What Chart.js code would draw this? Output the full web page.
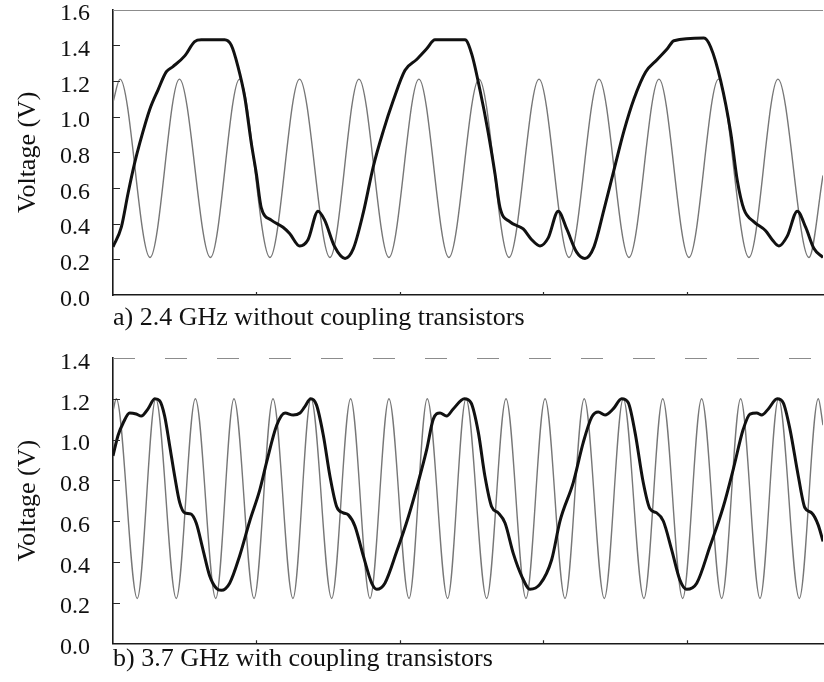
<!DOCTYPE html>
<html>
<head>
<meta charset="utf-8">
<script src="https://cdn.jsdelivr.net/npm/chart.js@4.4.1/dist/chart.umd.min.js"></script>
<style>
  html, body { margin: 0; padding: 0; background: #fff; }
  #wrap { position: relative; width: 824px; height: 682px; background: #fff; }
  canvas { position: absolute; left: 0; }
  #panelA { top: 0; }
  #panelB { top: 341px; }
</style>
</head>
<body>
<div id="wrap">
  <canvas id="panelA" width="824" height="341"></canvas>
  <canvas id="panelB" width="824" height="341"></canvas>
</div>
<script>
// ---- (a) 2.4 GHz input, divider output without coupling transistors ----
// time in ns, voltage in V
const inTimeA = [0.000, 0.049, 0.258, 0.463, 0.679, 0.882, 1.094, 1.300, 1.512, 1.714, 1.923, 2.132, 2.341,
                 2.551, 2.760, 2.969, 3.178, 3.387, 3.596, 3.805, 4.014, 4.220, 4.432, 4.634, 4.850, 4.948];
const inVoltA = [1.08, 1.21, 0.21, 1.21, 0.21, 1.21, 0.21, 1.21, 0.21, 1.21, 0.21, 1.21, 0.21,
                 1.21, 0.21, 1.21, 0.21, 1.21, 0.21, 1.21, 0.21, 1.21, 0.21, 1.21, 0.21, 0.67];

const outTimeA = [0.000, 0.058, 0.105, 0.151, 0.186, 0.256, 0.314, 0.371, 0.418, 0.500, 0.569, 0.615,
                  0.778, 0.824, 0.871, 0.918, 0.964, 0.999, 1.033, 1.103, 1.185, 1.231, 1.301, 1.359,
                  1.429, 1.475, 1.545, 1.617, 1.675, 1.744, 1.814, 1.884, 1.953, 2.035, 2.116, 2.186,
                  2.244, 2.453, 2.500, 2.557, 2.615, 2.662, 2.697, 2.767, 2.859, 2.918, 2.976, 3.033,
                  3.103, 3.162, 3.231, 3.289, 3.352, 3.422, 3.491, 3.561, 3.631, 3.712, 3.793, 3.863,
                  3.909, 4.118, 4.165, 4.235, 4.305, 4.351, 4.397, 4.467, 4.548, 4.594, 4.641, 4.699,
                  4.769, 4.827, 4.885, 4.948];
const outVoltA = [0.27, 0.38, 0.57, 0.74, 0.85, 1.04, 1.15, 1.25, 1.28, 1.34, 1.42, 1.43,
                  1.43, 1.40, 1.28, 1.11, 0.85, 0.68, 0.49, 0.42, 0.38, 0.345, 0.275, 0.31,
                  0.47, 0.42, 0.27, 0.205, 0.26, 0.46, 0.72, 0.92, 1.09, 1.26, 1.32, 1.38,
                  1.43, 1.43, 1.35, 1.15, 0.91, 0.68, 0.49, 0.41, 0.37, 0.31, 0.275, 0.32,
                  0.47, 0.37, 0.24, 0.205, 0.27, 0.48, 0.70, 0.92, 1.10, 1.25, 1.32, 1.38,
                  1.425, 1.44, 1.39, 1.20, 0.91, 0.64, 0.48, 0.41, 0.36, 0.31, 0.275, 0.33,
                  0.47, 0.38, 0.26, 0.21];

// ---- (b) 3.7 GHz input, divider output with coupling transistors ----
const inTimeB = [0.000, 0.023, 0.169, 0.298, 0.441, 0.574, 0.716, 0.843, 0.983, 1.115, 1.254, 1.380, 1.524,
                 1.656, 1.791, 1.923, 2.063, 2.190, 2.332, 2.460, 2.604, 2.739, 2.878, 3.011, 3.150, 3.284,
                 3.424, 3.556, 3.700, 3.831, 3.970, 4.102, 4.242, 4.374, 4.509, 4.638, 4.783, 4.915, 4.948];
const inVoltB = [1.14, 1.20, 0.22, 1.20, 0.22, 1.20, 0.22, 1.20, 0.22, 1.20, 0.22, 1.20, 0.22,
                 1.20, 0.22, 1.20, 0.22, 1.20, 0.22, 1.20, 0.22, 1.20, 0.22, 1.20, 0.22, 1.20,
                 0.22, 1.20, 0.22, 1.20, 0.22, 1.20, 0.22, 1.20, 0.22, 1.20, 0.22, 1.20, 1.07];

const outTimeB = [0.000, 0.035, 0.070, 0.116, 0.162, 0.197, 0.244, 0.291, 0.325, 0.360, 0.395, 0.430,
                  0.465, 0.500, 0.541, 0.580, 0.627, 0.674, 0.720, 0.755, 0.813, 0.883, 0.953, 1.022,
                  1.071, 1.141, 1.199, 1.256, 1.303, 1.336, 1.378, 1.418, 1.466, 1.512, 1.559, 1.605,
                  1.640, 1.686, 1.744, 1.803, 1.838, 1.895, 1.977, 2.058, 2.127, 2.186, 2.232, 2.279,
                  2.325, 2.371, 2.449, 2.495, 2.546, 2.592, 2.639, 2.685, 2.732, 2.790, 2.848, 2.906,
                  2.976, 3.057, 3.115, 3.208, 3.277, 3.336, 3.382, 3.429, 3.486, 3.545, 3.591, 3.638,
                  3.695, 3.742, 3.789, 3.835, 3.893, 3.951, 3.998, 4.068, 4.160, 4.253, 4.323, 4.392,
                  4.439, 4.486, 4.521, 4.567, 4.629, 4.671, 4.718, 4.776, 4.822, 4.869, 4.915, 4.948];
const outVoltB = [0.92, 1.02, 1.08, 1.13, 1.125, 1.115, 1.15, 1.20, 1.19, 1.115, 0.97, 0.82,
                  0.69, 0.64, 0.635, 0.59, 0.46, 0.33, 0.27, 0.26, 0.295, 0.43, 0.60, 0.75,
                  0.89, 1.07, 1.13, 1.12, 1.13, 1.16, 1.20, 1.17, 1.02, 0.82, 0.67, 0.64,
                  0.63, 0.575, 0.43, 0.295, 0.265, 0.295, 0.45, 0.62, 0.79, 0.95, 1.10, 1.13,
                  1.115, 1.15, 1.20, 1.18, 1.035, 0.82, 0.67, 0.64, 0.59, 0.44, 0.33, 0.265,
                  0.29, 0.41, 0.60, 0.79, 0.985, 1.11, 1.135, 1.12, 1.15, 1.20, 1.18, 1.035,
                  0.79, 0.66, 0.64, 0.60, 0.46, 0.31, 0.265, 0.295, 0.475, 0.67, 0.855, 1.05,
                  1.125, 1.13, 1.12, 1.15, 1.20, 1.18, 1.05, 0.82, 0.665, 0.64, 0.58, 0.50];

// axis tick values
const voltTicksA = [0, 0.2, 0.4, 0.6, 0.8, 1.0, 1.2, 1.4, 1.6];
const voltTicksB = [0, 0.2, 0.4, 0.6, 0.8, 1.0, 1.2, 1.4];
const timeTicks = [1, 2, 3, 4];

const captionA = 'a) 2.4 GHz without coupling transistors';
const captionB = 'b) 3.7 GHz with coupling transistors';
const yTitle = 'Voltage (V)';

const SERIF = '"Liberation Serif", "Times New Roman", Times, serif';
const TIME_END = 4.948;

function pairs(t, v) {
  return t.map((x, i) => ({ x: x, y: v[i] }));
}

// inward tick marks on both axes plus the faint upper frame edge
const axisMarks = {
  id: 'axisMarks',
  afterDatasetsDraw(chart, args, o) {
    const { ctx, chartArea: a, scales } = chart;
    const x = scales.x, y = scales.y;
    ctx.save();
    ctx.strokeStyle = '#2a2a2a';
    ctx.lineWidth = 1.2;
    ctx.beginPath();
    o.voltTicks.forEach(v => {
      if (v <= y.min || v >= y.max) return;
      const py = Math.round(y.getPixelForValue(v)) + 0.5;
      ctx.moveTo(a.left, py);
      ctx.lineTo(a.left + 7, py);
    });
    o.timeTicks.forEach(t => {
      const px = Math.round(x.getPixelForValue(t)) + 0.5;
      ctx.moveTo(px, a.bottom);
      ctx.lineTo(px, a.bottom - 3);
    });
    ctx.stroke();

    ctx.strokeStyle = o.frameColor;
    ctx.lineWidth = 1;
    ctx.setLineDash(o.frameDash);
    ctx.beginPath();
    ctx.moveTo(a.left, Math.round(a.top) + 0.5);
    ctx.lineTo(a.right, Math.round(a.top) + 0.5);
    ctx.stroke();
    ctx.restore();
  }
};

function makePanel(el, p) {
  return new Chart(el, {
    type: 'line',
    data: {
      datasets: [
        {
          label: 'Output',
          data: pairs(p.outTime, p.outVolt),
          borderColor: '#111111',
          borderWidth: 3,
          pointRadius: 0,
          fill: false,
          cubicInterpolationMode: 'monotone'
        },
        {
          label: 'Input',
          data: pairs(p.inTime, p.inVolt),
          borderColor: '#777777',
          borderWidth: 1.4,
          pointRadius: 0,
          fill: false,
          cubicInterpolationMode: 'monotone'
        }
      ]
    },
    options: {
      responsive: false,
      animation: false,
      devicePixelRatio: 1,
      layout: { padding: { top: p.padTop, right: 1, bottom: 0, left: 0 } },
      plugins: {
        legend: { display: false },
        tooltip: { enabled: false },
        axisMarks: {
          voltTicks: p.voltTicks,
          timeTicks: timeTicks,
          frameColor: p.frameColor,
          frameDash: p.frameDash
        }
      },
      scales: {
        x: {
          type: 'linear',
          min: 0,
          max: TIME_END,
          grid: { display: false, drawTicks: false },
          ticks: { display: false },
          border: { display: true, color: '#1a1a1a', width: 1.6 },
          title: {
            display: true,
            text: p.caption,
            align: 'start',
            color: '#111',
            font: { family: SERIF, size: 26 },
            padding: { top: 0, bottom: 7.2 }
          },
          afterFit: s => { s.height = p.xAxisH; s.paddingLeft = 0; s.paddingRight = 0; }
        },
        y: {
          type: 'linear',
          min: 0,
          max: p.yMax,
          grid: { display: false, drawTicks: false },
          border: { display: true, color: '#1a1a1a', width: 1.6 },
          afterBuildTicks: s => { s.ticks = p.voltTicks.map(v => ({ value: v })); },
          ticks: {
            autoSkip: false,
            padding: 23,
            labelOffset: 4.5,
            color: '#111',
            font: { family: SERIF, size: 24 },
            callback: v => Number(v).toFixed(1)
          },
          title: {
            display: true,
            text: yTitle,
            color: '#111',
            font: { family: SERIF, size: 26 },
            padding: { top: 12.7, bottom: 0 }
          },
          afterFit: s => { s.width = 113; s.paddingTop = 0; s.paddingBottom = 0; }
        }
      }
    },
    plugins: [axisMarks]
  });
}

makePanel(document.getElementById('panelA'), {
  inTime: inTimeA, inVolt: inVoltA, outTime: outTimeA, outVolt: outVoltA,
  voltTicks: voltTicksA, yMax: 1.6, caption: captionA,
  padTop: 9.5, xAxisH: 46, frameColor: '#8c8c8c', frameDash: []
});

makePanel(document.getElementById('panelB'), {
  inTime: inTimeB, inVolt: inVoltB, outTime: outTimeB, outVolt: outVoltB,
  voltTicks: voltTicksB, yMax: 1.4, caption: captionB,
  padTop: 17, xAxisH: 38.7, frameColor: '#8c8c8c', frameDash: [22, 30]
});
</script>
</body>
</html>
